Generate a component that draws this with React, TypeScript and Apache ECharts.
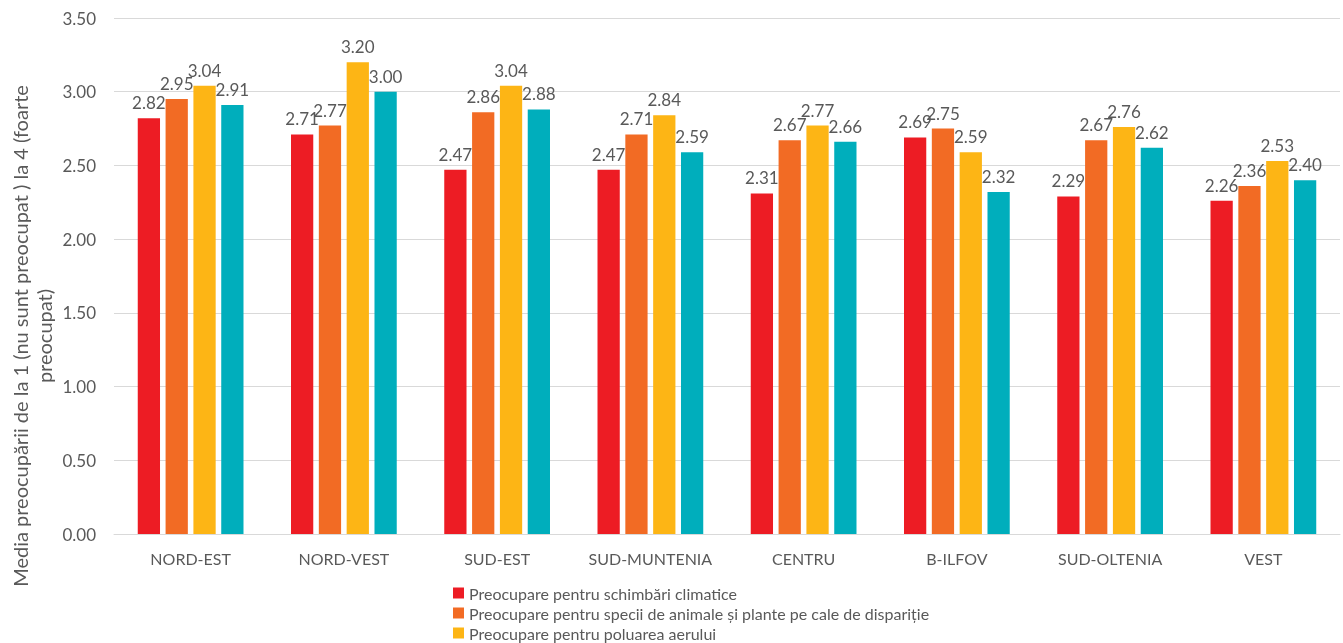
import React, { useEffect, useRef } from "react";
import * as echarts from "echarts";

const categories = ["NORD-EST", "NORD-VEST", "SUD-EST", "SUD-MUNTENIA", "CENTRU", "B-ILFOV", "SUD-OLTENIA", "VEST"];
const seriesNames = [
  "Preocupare pentru schimbări climatice",
  "Preocupare pentru specii de animale și plante pe cale de dispariție",
  "Preocupare pentru poluarea aerului",
  "Preocupare pentru poluarea apei",
];
const climate = [2.82, 2.71, 2.47, 2.47, 2.31, 2.69, 2.29, 2.26];
const species = [2.95, 2.77, 2.86, 2.71, 2.67, 2.75, 2.67, 2.36];
const air = [3.04, 3.2, 3.04, 2.84, 2.77, 2.59, 2.76, 2.53];
const water = [2.91, 3.0, 2.88, 2.59, 2.66, 2.32, 2.62, 2.4];
const colors = ["#ED1C24", "#F26B24", "#FDB515", "#00AEBC"];
const yTitle1 = "Media preocupării de la 1 (nu sunt preocupat ) la 4 (foarte";
const yTitle2 = "preocupat)";

const FONT = "Lato, 'Open Sans', sans-serif";
const H = 700;

export default function App() {
  const ref = useRef<HTMLDivElement>(null);
  useEffect(() => {
    if (!ref.current) return;
    const chart = echarts.init(ref.current, undefined, { renderer: "svg" });
    const data = [climate, species, air, water];
    chart.setOption({
      animation: false,
      textStyle: { fontFamily: FONT },
      grid: { left: 114, right: 3, top: 18, bottom: H - 534, containLabel: false },
      legend: {
        orient: "vertical",
        left: 448,
        top: 580,
        itemWidth: 11,
        itemHeight: 11,
        itemGap: 4,
        icon: "rect",
        textStyle: { color: "#595959", fontSize: 16, lineHeight: 16, fontFamily: FONT },
        data: seriesNames,
      },
      xAxis: {
        type: "category",
        data: categories,
        axisLine: { lineStyle: { color: "#D9D9D9" } },
        axisTick: { show: false },
        axisLabel: { color: "#595959", fontSize: 16, margin: 16, interval: 0, fontFamily: FONT },
      },
      yAxis: {
        type: "value",
        min: 0,
        max: 3.5,
        interval: 0.5,
        axisLine: { show: false },
        axisTick: { show: false },
        splitLine: { lineStyle: { color: "#D9D9D9" } },
        axisLabel: {
          color: "#595959",
          fontSize: 17,
          margin: 18,
          fontFamily: FONT,
          formatter: (v: number) => v.toFixed(2),
        },
      },
      graphic: [
        {
          type: "text",
          x: 20,
          y: 336,
          rotation: Math.PI / 2,
          style: {
            text: yTitle1,
            fill: "#595959",
            fontSize: 20,
            fontFamily: FONT,
            align: "center",
            verticalAlign: "middle",
          },
        },
        {
          type: "text",
          x: 44,
          y: 336,
          rotation: Math.PI / 2,
          style: {
            text: yTitle2,
            fill: "#595959",
            fontSize: 20,
            fontFamily: FONT,
            align: "center",
            verticalAlign: "middle",
          },
        },
      ],
      series: seriesNames.map((name, i) => ({
        name,
        type: "bar",
        data: data[i],
        barGap: "25%",
        barCategoryGap: "31%",
        itemStyle: { color: colors[i] },
        label: {
          show: true,
          position: "top",
          distance: 7,
          color: "#595959",
          fontSize: 17,
          fontFamily: FONT,
          formatter: (p: any) => Number(p.value).toFixed(2),
        },
      })),
    });
    return () => chart.dispose();
  }, []);
  return <div ref={ref} style={{ position: "fixed", left: 0, top: 0, width: 1343, height: H }} />;
}
